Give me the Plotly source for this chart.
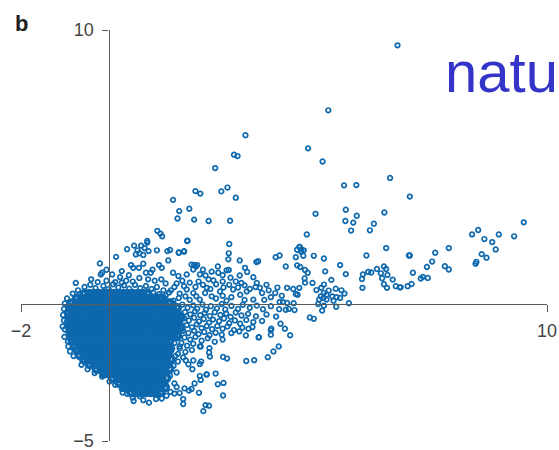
import plotly.graph_objects as go

# ---------------- data ----------------
# dense overlapping cloud: one y level per row, with the x values of that row
core_y = [0.36, 0.19, 0.02, -0.15, -0.32, -0.49, -0.66, -0.83, -1.0, -1.17, -1.34,
          -1.51, -1.68, -1.85, -2.02, -2.19, -2.36, -2.53, -2.7, -2.87, -3.04, -3.21]
core_x = [
    [-0.55, -0.44, -0.33, -0.22, -0.11, 0.0, 0.11, 0.22, 0.33, 0.44, 0.55, 0.66, 0.77, 0.88],
    [-0.72, -0.61, -0.5, -0.39, -0.28, -0.17, -0.06, 0.05, 0.16, 0.27, 0.38, 0.49, 0.6, 0.71, 0.82, 0.93, 1.04, 1.15, 1.22],
    [-0.84, -0.73, -0.62, -0.51, -0.4, -0.29, -0.18, -0.07, 0.04, 0.15, 0.26, 0.37, 0.48, 0.59, 0.7, 0.81, 0.92, 1.03, 1.14, 1.25, 1.36, 1.4],
    [-0.87, -0.76, -0.65, -0.54, -0.43, -0.32, -0.21, -0.1, 0.01, 0.12, 0.23, 0.34, 0.45, 0.56, 0.67, 0.78, 0.89, 1.0, 1.11, 1.22, 1.33, 1.44, 1.55],
    [-0.9, -0.79, -0.68, -0.57, -0.46, -0.35, -0.24, -0.13, -0.02, 0.09, 0.2, 0.31, 0.42, 0.53, 0.64, 0.75, 0.86, 0.97, 1.08, 1.19, 1.3, 1.41, 1.52],
    [-0.88, -0.77, -0.66, -0.55, -0.44, -0.33, -0.22, -0.11, 0.0, 0.11, 0.22, 0.33, 0.44, 0.55, 0.66, 0.77, 0.88, 0.99, 1.1, 1.21, 1.32, 1.43, 1.54, 1.63],
    [-0.9, -0.79, -0.68, -0.57, -0.46, -0.35, -0.24, -0.13, -0.02, 0.09, 0.2, 0.31, 0.42, 0.53, 0.64, 0.75, 0.86, 0.97, 1.08, 1.19, 1.3, 1.41, 1.52],
    [-0.88, -0.77, -0.66, -0.55, -0.44, -0.33, -0.22, -0.11, 0.0, 0.11, 0.22, 0.33, 0.44, 0.55, 0.66, 0.77, 0.88, 0.99, 1.1, 1.21, 1.32, 1.43, 1.54, 1.63],
    [-0.87, -0.76, -0.65, -0.54, -0.43, -0.32, -0.21, -0.1, 0.01, 0.12, 0.23, 0.34, 0.45, 0.56, 0.67, 0.78, 0.89, 1.0, 1.11, 1.22, 1.33, 1.44, 1.5],
    [-0.84, -0.73, -0.62, -0.51, -0.4, -0.29, -0.18, -0.07, 0.04, 0.15, 0.26, 0.37, 0.48, 0.59, 0.7, 0.81, 0.92, 1.03, 1.14, 1.25, 1.36, 1.47, 1.56],
    [-0.82, -0.71, -0.6, -0.49, -0.38, -0.27, -0.16, -0.05, 0.06, 0.17, 0.28, 0.39, 0.5, 0.61, 0.72, 0.83, 0.94, 1.05, 1.16, 1.27, 1.38],
    [-0.77, -0.66, -0.55, -0.44, -0.33, -0.22, -0.11, 0.0, 0.11, 0.22, 0.33, 0.44, 0.55, 0.66, 0.77, 0.88, 0.99, 1.1, 1.21, 1.32],
    [-0.7, -0.59, -0.48, -0.37, -0.26, -0.15, -0.04, 0.07, 0.18, 0.29, 0.4, 0.51, 0.62, 0.73, 0.84, 0.95, 1.06, 1.17, 1.28, 1.38],
    [-0.66, -0.55, -0.44, -0.33, -0.22, -0.11, 0.0, 0.11, 0.22, 0.33, 0.44, 0.55, 0.66, 0.77, 0.88, 0.99, 1.1, 1.21, 1.32],
    [-0.56, -0.45, -0.34, -0.23, -0.12, -0.01, 0.1, 0.21, 0.32, 0.43, 0.54, 0.65, 0.76, 0.87, 0.98, 1.09, 1.2, 1.31, 1.41],
    [-0.43, -0.32, -0.21, -0.1, 0.01, 0.12, 0.23, 0.34, 0.45, 0.56, 0.67, 0.78, 0.89, 1.0, 1.11, 1.22, 1.33],
    [-0.27, -0.16, -0.05, 0.06, 0.17, 0.28, 0.39, 0.5, 0.61, 0.72, 0.83, 0.94, 1.05, 1.16, 1.27, 1.38],
    [-0.1, 0.01, 0.12, 0.23, 0.34, 0.45, 0.56, 0.67, 0.78, 0.89, 1.0, 1.11, 1.22],
    [0.1, 0.21, 0.32, 0.43, 0.54, 0.65, 0.76, 0.87, 0.98, 1.09, 1.2, 1.31],
    [0.25, 0.36, 0.47, 0.58, 0.69, 0.8, 0.91, 1.02, 1.13, 1.24],
    [0.4, 0.51, 0.62, 0.73, 0.84, 0.95, 1.06, 1.17, 1.28],
    [0.52, 0.63, 0.74, 0.85, 0.96, 1.07, 1.18],
]

# edge of the dense cloud (x, y)
edge_points = [
    (-0.55, 0.62), (-0.42, 0.7), (-0.3, 0.58), (-0.12, 0.66), (0.0, 0.55), (0.1, 0.72), (0.22, 0.6),
    (0.35, 0.68), (0.47, 0.56), (0.6, 0.7), (0.72, 0.58), (0.85, 0.66), (0.98, 0.55), (1.1, 0.62),
    (1.02, 0.42), (1.15, 0.36), (1.25, 0.5), (1.38, 0.42), (1.3, 0.3), (-0.7, 0.5), (-0.82, 0.38),
    (-0.66, 0.36), (-0.95, 0.2), (-1.0, 0.02), (-1.02, -0.18),
    (-1.04, -0.4), (-1.02, -0.6), (-1.05, -0.82), (-1.0, -0.93), (-1.01, -1.2), (-0.93, -1.37),
    (-0.92, -1.55), (-0.88, -1.73), (-0.8, -1.9), (-0.59, -2.03), (-0.62, -2.22), (-0.48, -2.38),
    (-0.32, -2.52), (-0.15, -2.65), (0.02, -2.83), (0.15, -2.95), (0.3, -3.1), (0.42, -3.28),
    (0.55, -3.42), (0.57, -3.54), (0.79, -3.51), (0.92, -3.6), (0.71, -3.37), (1.08, -3.47),
    (1.21, -3.45), (1.13, -3.32), (1.32, -3.35), (0.32, -3.23), (0.33, -3.08), (0.39, -2.91),
    (1.55, -3.03), (1.73, -3.08), (1.89, -3.1), (1.83, -3.16), (1.62, -3.25), (1.5, -3.27),
    (1.41, -3.21), (1.5, -2.9), (1.4, -2.62), (1.55, -2.5), (1.48, -2.25), (1.58, -2.1), (1.52, -1.9),
    (1.45, -1.62), (1.62, -1.55), (1.5, -1.42), (1.6, -1.12), (1.68, -0.9), (1.58, -0.62),
    (1.48, 0.12), (1.6, -0.3), (-0.75, 0.77),
]

# lower tail to the right of the cloud (x, y)
tail_points = [
    (2.11, -2.1), (2.08, -2.19), (1.93, -2.06), (1.82, -2.2), (1.91, -2.38), (1.76, -2.06),
    (2.24, -2.57), (2.08, -2.63), (2.1, -2.77), (1.96, -2.9), (2.44, -2.54), (2.23, -2.57),
    (2.49, -2.93), (2.62, -2.88), (2.06, -3.24), (2.61, -3.34), (1.7, -3.65), (1.7, -3.47),
    (2.21, -3.69), (2.29, -3.71), (2.16, -3.91), (2.31, -1.92), (2.29, -1.77), (2.3, -1.61),
    (2.08, -1.55), (2.61, -1.93), (2.7, -1.99), (3.14, -2.08), (3.32, -2.05), (3.63, -1.94),
    (3.76, -1.73), (3.88, -1.55), (4.14, -1.14), (3.7, -1.12), (4.02, -0.9), (3.71, -0.9),
    (3.43, -1.21), (3.13, -1.15), (3.19, -0.9), (3.42, -1.22), (3.7, -0.96), (4.59, -0.49), (4.68, -0.54),
]

# band just right of the cloud, below the x axis (x, y)
band_points = [
    (1.68, -0.02), (1.8, -0.14), (1.93, -0.05), (2.02, -0.17), (2.14, -0.02), (2.22, -0.21), (2.33, -0.08),
    (2.47, -0.16), (2.58, 0.0), (2.66, -0.2), (2.8, -0.07), (2.95, -0.18), (3.06, -0.03), (3.22, -0.14),
    (3.38, -0.06), (3.52, -0.19), (3.7, -0.08),
    (1.74, -0.3), (1.86, -0.38), (1.97, -0.27), (2.09, -0.41), (2.19, -0.33), (2.31, -0.44), (2.42, -0.3),
    (2.55, -0.4), (2.68, -0.35), (2.78, -0.47), (2.9, -0.31), (3.03, -0.42), (3.18, -0.36), (3.36, -0.45),
    (3.6, -0.38), (3.82, -0.46),
    (1.72, -0.52), (1.83, -0.6), (1.95, -0.5), (2.06, -0.64), (2.17, -0.55), (2.29, -0.68), (2.38, -0.57),
    (2.52, -0.63), (2.63, -0.53), (2.75, -0.7), (2.88, -0.6), (3.0, -0.72), (3.14, -0.58), (3.3, -0.66),
    (3.5, -0.62), (3.92, -0.72),
    (1.78, -0.77), (1.9, -0.85), (2.01, -0.74), (2.12, -0.88), (2.24, -0.8), (2.36, -0.92), (2.48, -0.8),
    (2.6, -0.9), (2.71, -0.82), (2.86, -0.95), (3.05, -0.86), (3.28, -0.84),
    (1.7, -0.98), (1.82, -1.06), (1.95, -0.98), (2.05, -1.1), (2.18, -1.02), (2.3, -1.14), (2.44, -1.05),
    (2.58, -1.12), (2.8, -1.06), (2.98, -1.0),
    (1.73, -1.22), (1.86, -1.3), (1.98, -1.2), (2.12, -1.34), (2.26, -1.25), (2.42, -1.38), (2.6, -1.3),
    (1.66, -1.42), (1.79, -1.52), (1.93, -1.45), (2.1, -1.55), (1.62, -1.62), (1.75, -1.75), (1.9, -1.68),
    (1.58, -1.82), (1.7, -1.95),
    (3.9, 0.07), (3.98, 0.07), (4.07, 0.04), (4.22, 0.03), (4.11, -0.18), (4.24, -0.22), (4.04, -0.21), (3.89, -0.19),
]

# points above the x axis near the cloud (x, y)
upper_points = [
    (0.17, 1.72), (0.62, 1.81), (0.7, 1.85), (0.79, 1.79), (0.58, 2.13), (0.74, 2.13), (0.88, 2.24),
    (0.66, 1.96), (1.1, 1.96), (1.34, 1.93), (1.6, 1.88), (1.72, 1.93), (1.79, 2.3), (-0.2, 1.48),
    (-0.15, 1.14), (-0.18, 1.08), (0.08, 1.08), (0.26, 0.98), (0.46, 1.05), (0.51, 1.42), (0.56, 1.32),
    (0.69, 1.32), (0.79, 1.47), (0.85, 1.14), (0.96, 1.14), (1.15, 1.42), (1.21, 1.32), (1.36, 1.59),
    (1.47, 1.14), (1.59, 1.02), (1.78, 1.08), (1.93, 1.26), (1.89, 1.44), (2.02, 1.42), (2.08, 1.08),
    (2.21, 1.04), (2.39, 0.86), (2.5, 1.14), (2.69, 1.23), (2.78, 0.96), (2.99, 1.04), (3.03, 0.77),
    (3.11, 1.32), (3.16, 1.17), (3.3, 0.98), (3.38, 0.77), (3.41, 1.56), (2.99, 1.59), (2.73, 1.63),
    (0.42, 2.0), (0.82, 2.04), (0.91, 1.93), (1.4, 1.97), (1.6, 0.22), (1.78, 0.53), (1.93, 0.4),
    (2.08, 0.16), (2.24, 0.59), (2.35, 0.28), (2.54, 0.46), (2.69, 0.12), (2.84, 0.53), (3.0, 0.34),
    (3.15, 0.46), (3.3, 0.16), (3.45, 0.59), (1.42, 0.5), (1.5, 0.62), (1.55, 0.75), (1.68, 0.85),
    (1.72, 0.65), (1.85, 0.78), (1.98, 0.62), (2.05, 0.82), (2.15, 0.7), (2.28, 0.9), (2.32, 0.55),
    (2.45, 0.72), (2.6, 0.82), (2.62, 0.6), (2.75, 0.7), (2.9, 0.82), (2.95, 0.6), (3.1, 0.68),
    (3.22, 0.55), (3.35, 0.62), (3.5, 0.4), (3.6, 0.7), (3.7, 0.25), (3.65, 0.5), (3.8, 0.4), (3.95, 0.3),
    (1.62, 0.38), (1.75, 0.28), (1.85, 0.15), (2.0, 0.28), (2.2, 0.4), (2.45, 0.2), (2.6, 0.3), (2.8, 0.25),
    (3.1, 0.15), (3.55, 0.15), (3.85, 0.6), (2.15, 1.25), (2.35, 1.18), (2.6, 1.05), (1.05, 0.85),
    (1.2, 0.9), (1.3, 0.75), (0.9, 0.9), (0.7, 0.95), (0.4, 0.85), (0.3, 0.78), (0.15, 0.8), (-0.05, 0.85),
    (-0.25, 0.8), (-0.4, 0.9), (0.55, 0.82), (1.0, 1.25), (0.3, 1.2), (-0.05, 1.25), (1.6, 1.87),
    (1.72, 1.91), (1.95, 1.43), (1.99, 1.37), (2.49, 1.37), (2.74, 1.24), (2.74, 1.85), (2.75, 2.19),
    (3.37, 1.53),
]

# middle cluster around x = 4..5.5 (x, y)
mid_points = [
    (4.3, 1.98), (4.36, 2.08), (4.39, 1.91), (4.45, 1.96), (4.44, 1.76), (4.27, 1.71), (3.81, 1.71),
    (3.9, 1.77), (4.68, 1.76), (4.91, 1.66), (4.04, 1.37), (4.3, 1.41), (4.37, 1.35), (4.48, 1.24),
    (4.54, 1.14), (4.94, 1.19), (5.28, 1.42), (5.41, 1.09), (5.08, 0.88), (4.91, 0.71), (4.85, 0.59),
    (4.74, 0.51), (4.91, 0.4), (4.97, 0.34), (4.84, 0.28), (4.9, 0.22), (4.97, 0.16), (4.8, 0.16),
    (4.78, 0.0), (4.91, -0.06), (4.87, -0.24), (5.02, 0.49), (5.1, 0.28), (5.18, 0.56), (5.31, 0.5),
    (5.2, 0.25), (5.28, 0.22), (5.13, 0.12), (5.38, 0.38), (5.48, 0.03), (5.19, -0.1), (4.31, 0.34),
    (4.47, 0.93), (4.48, 0.78), (4.65, 0.77), (4.21, 0.55), (4.27, 0.36), (4.35, 0.59), (4.07, 0.59),
]

# sparse points far from the cloud (x, y)
outlier_points = [
    (6.59, 9.44), (5.01, 7.07), (3.12, 6.16), (4.55, 5.68), (4.88, 5.2), (2.86, 5.45), (2.94, 5.4),
    (2.43, 4.96), (6.42, 4.6), (5.37, 4.33), (5.65, 4.34), (6.87, 3.92), (1.98, 4.12), (2.09, 4.03),
    (2.57, 4.11), (2.71, 4.25), (2.9, 3.88), (1.47, 3.8), (1.84, 3.48), (1.61, 3.39), (1.57, 3.12),
    (1.95, 3.08), (2.28, 3.03), (2.77, 3.04), (4.72, 3.29), (5.41, 3.44), (5.66, 3.22), (6.29, 3.34),
    (5.4, 3.03), (5.58, 2.97), (6.05, 2.93), (5.53, 2.68), (5.96, 2.69), (4.52, 2.54), (6.33, 2.04),
    (4.35, 2.08), (4.4, 1.99), (1.11, 2.67), (1.18, 2.57), (1.22, 2.47), (0.88, 2.3), (1.8, 2.31),
    (9.47, 2.98), (8.43, 2.7), (8.29, 2.54), (8.9, 2.54), (9.25, 2.47), (8.57, 2.37), (8.75, 2.26),
    (8.83, 1.99), (8.51, 1.82), (8.62, 1.69), (8.39, 1.54), (8.37, 1.47), (7.76, 2.04), (7.45, 1.87),
    (6.87, 1.77), (7.38, 1.55), (7.26, 1.35), (7.67, 1.38), (7.76, 1.26), (6.94, 1.14), (7.12, 0.93),
    (7.17, 0.99), (7.28, 0.95), (6.91, 0.73), (6.82, 0.65), (6.66, 0.61), (5.88, 1.77), (6.85, 1.77),
    (5.8, 1.08), (5.78, 0.91), (5.92, 1.17), (5.99, 1.15), (6.12, 1.28), (6.21, 1.12), (6.28, 1.37),
    (6.33, 1.28), (6.36, 1.06), (6.24, 0.94), (6.28, 0.72), (6.35, 0.59), (6.48, 0.89), (6.55, 0.65),
    (6.64, 0.61), (5.79, 0.59),
]

x_tick_vals = [-2, 10]
x_tick_text = ["\u22122", "10"]
y_tick_vals = [-5, 10]
y_tick_text = ["\u22125", "10"]
panel_label = "b"
watermark = "natu"

# ---------------- figure ----------------
MARK = "#0d68ad"
AXC = "#5a5a5a"
FONT = "Liberation Sans, Arial, sans-serif"

cx, cy = [], []
for yv, row in zip(core_y, core_x):
    cx.extend(row)
    cy.extend([yv] * len(row))

others = edge_points + tail_points + band_points + upper_points + mid_points + outlier_points
sx = [p[0] for p in others]
sy = [p[1] for p in others]

fig = go.Figure()
fig.add_trace(go.Scatter(
    x=cx, y=cy, mode="markers", hoverinfo="skip",
    marker=dict(symbol="circle-open", size=7, color=MARK, line=dict(width=3.6, color=MARK)),
))
fig.add_trace(go.Scatter(
    x=sx, y=sy, mode="markers",
    marker=dict(symbol="circle-open", size=4.6, color=MARK, line=dict(width=1.7, color=MARK)),
))

# plot box at 21..547 (x) and 30..441 (y) in the 559 x 450 figure
W, H = 559, 450
PL, PT, PW, PH = 21, 30, 526, 411
tickfont = dict(size=18, color="#444444", family=FONT)
axis_common = dict(anchor="free", showline=True, linecolor=AXC, linewidth=1.4, ticks="outside",
                   tickwidth=1.4, tickcolor=AXC, showgrid=False, zeroline=False, tickfont=tickfont,
                   automargin=False, ticklabeloverflow="allow")
fig.update_layout(
    width=W, height=H,
    margin=dict(l=PL, r=W - PL - PW, t=PT, b=H - PT - PH, autoexpand=False),
    paper_bgcolor="white", plot_bgcolor="white",
    showlegend=False,
    xaxis=dict(range=[-2, 10], position=1 / 3, ticklen=7, tickvals=x_tick_vals,
               ticktext=x_tick_text, ticklabelstandoff=3, **axis_common),
    yaxis=dict(range=[-5, 10], position=2 / 12, ticklen=6, tickvals=y_tick_vals,
               ticktext=y_tick_text, ticklabelstandoff=5, **axis_common),
    annotations=[
        dict(text="<b>" + panel_label + "</b>", xref="paper", yref="paper",
             x=(13 - PL) / PW, y=1 - (37.5 - PT) / PH, xanchor="left", yanchor="bottom",
             showarrow=False, font=dict(size=22, color="#222222", family=FONT)),
        dict(text=watermark, xref="paper", yref="paper",
             x=(443 - PL) / PW, y=1 - (106 - PT) / PH, xanchor="left", yanchor="bottom",
             showarrow=False, font=dict(size=58, color="#3434c8", family=FONT)),
    ],
)

# the page's default 8 px body margin would push the figure off the 559 x 450 window
fig.write_html("out.html", config={"displayModeBar": False},
               post_script="document.body.style.margin='0';")
